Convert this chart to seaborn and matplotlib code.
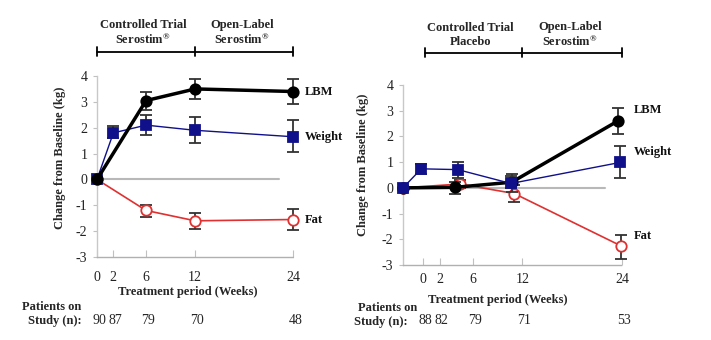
import matplotlib
matplotlib.use("Agg")
import matplotlib.pyplot as plt
import seaborn as sns
import pandas as pd

sns.set_theme(style="white")
plt.rcParams['font.family'] = ['Liberation Serif', 'DejaVu Serif']
plt.rcParams['mathtext.fontset'] = 'custom'
plt.rcParams['mathtext.rm'] = 'Liberation Serif'
plt.rcParams['mathtext.bf'] = 'Liberation Serif:bold'
plt.rcParams['mathtext.default'] = 'bf'

# ---------------- data ----------------
week_ticks = [0, 2, 6, 12, 24]
y_ticks = [-3, -2, -1, 0, 1, 2, 3, 4]

# Left panel (Serostim throughout)
L_lbm_x = [0, 6, 12, 24]
L_lbm_y = [0, 3.05, 3.5, 3.4]
L_lbm_lo = [0, 2.7, 3.1, 2.9]
L_lbm_hi = [0, 3.4, 3.9, 3.9]

L_wt_x = [0, 2, 6, 12, 24]
L_wt_y = [0, 1.8, 2.1, 1.9, 1.65]
L_wt_lo = [0, 1.6, 1.7, 1.4, 1.05]
L_wt_hi = [0, 2.05, 2.5, 2.4, 2.3]

L_fat_x = [0, 6, 12, 24]
L_fat_y = [0, -1.2, -1.6, -1.55]
L_fat_lo = [0, -1.45, -1.9, -1.95]
L_fat_hi = [0, -1.0, -1.3, -1.15]

L_n = ["90", "87", "79", "70", "48"]

# Right panel (placebo then open-label)
R_lbm_x = [-2.4, 3.9, 10.7, 23.5]
R_lbm_y = [0, 0.02, 0.22, 2.6]
R_lbm_lo = [0, -0.23, -0.17, 2.09]
R_lbm_hi = [0, 0.22, 0.55, 3.1]

R_wt_x = [-2.4, -0.2, 4.2, 10.6, 23.8]
R_wt_y = [0, 0.74, 0.71, 0.17, 0.99]
R_wt_lo = [0, 0.53, 0.39, 0.0, 0.39]
R_wt_hi = [0, 0.91, 1.0, 0.45, 1.64]

R_fat_x = [-2.4, 4.5, 11.0, 23.9]
R_fat_y = [0, 0.15, -0.22, -2.26]
R_fat_lo = [0, 0.0, -0.56, -2.75]
R_fat_hi = [0, 0.3, 0.1, -1.84]

R_n = ["88", "82", "79", "71", "53"]

L_header = ["Controlled Trial\nSerostim$^{®}$", "Open-Label\nSerostim$^{®}$"]
R_header = ["Controlled Trial\nPlacebo", "Open-Label\nSerostim$^{®}$"]

NAVY = "#10108a"
RED = "#e03030"
GREY = "#b8b8b8"
FS = 9

fig = plt.figure(figsize=(7.11, 3.40), dpi=100)
axL = fig.add_axes([97/711, 83/340, 243/711, 181/340])
axR = fig.add_axes([403/711, 75/340, 297/711, 180/340])


def draw_series(ax, x, y, lo, hi, color, marker, lw, ms, mfc, z):
    df = pd.DataFrame({"x": x, "y": y})
    sns.lineplot(data=df, x="x", y="y", ax=ax, color=color, lw=lw,
                 marker=marker, markersize=ms, markerfacecolor=mfc,
                 markeredgecolor=color, markeredgewidth=1.3,
                 sort=False, zorder=z, clip_on=False)
    yerr = [[yy - l for yy, l in zip(y, lo)], [h - yy for yy, h in zip(y, hi)]]
    ax.errorbar(x, y, yerr=yerr, fmt="none", ecolor="#333333", elinewidth=1.3,
                capsize=4, capthick=1.3, zorder=z - 1, clip_on=False)


def setup(ax, xlim, zero_end, bottom_start, labelpad):
    ax.set_xlim(*xlim)
    ax.set_ylim(-3, 4)
    ax.axhline(0, xmin=0, xmax=(zero_end - xlim[0]) / (xlim[1] - xlim[0]),
               color=GREY, lw=1.5, zorder=1)
    for s in ["top", "right"]:
        ax.spines[s].set_visible(False)
    ax.spines["left"].set_color("#c8c8c8")
    ax.spines["left"].set_linewidth(1.0)
    ax.spines["bottom"].set_color("#b0b0b0")
    ax.spines["bottom"].set_linewidth(1.0)
    ax.spines["bottom"].set_linestyle((0, (1, 1)))
    ax.spines["bottom"].set_bounds(bottom_start, 24)
    ax.set_yticks(y_ticks)
    ax.set_yticklabels([str(v) for v in y_ticks], fontsize=10)
    ax.set_xticks(week_ticks)
    ax.set_xticklabels([str(v) for v in week_ticks], fontsize=10)
    ax.tick_params(axis="y", left=True, length=3, width=0.8, color="#c0c0c0",
                   pad=4, labelcolor="#222222")
    ax.tick_params(axis="x", bottom=True, direction="in", length=5, width=0.8,
                   color="#c0c0c0", pad=labelpad, labelcolor="#222222")
    ax.patch.set_alpha(0)


# Left panel
setup(axL, (0, 29.7), 22.2, 0, 10)
draw_series(axL, L_wt_x, L_wt_y, L_wt_lo, L_wt_hi, NAVY, "s", 1.0, 7.5, NAVY, 5)
draw_series(axL, L_fat_x, L_fat_y, L_fat_lo, L_fat_hi, RED, "o", 1.2, 7.5, "white", 4)
draw_series(axL, L_lbm_x, L_lbm_y, L_lbm_lo, L_lbm_hi, "black", "o", 2.5, 7.5, "black", 6)

# Right panel
setup(axR, (-2.4, 33.4), 21.9, -2.4, 6)
draw_series(axR, R_fat_x, R_fat_y, R_fat_lo, R_fat_hi, RED, "o", 1.2, 7.5, "white", 4)
draw_series(axR, R_lbm_x, R_lbm_y, R_lbm_lo, R_lbm_hi, "black", "o", 2.5, 7.5, "black", 5)
draw_series(axR, R_wt_x, R_wt_y, R_wt_lo, R_wt_hi, NAVY, "s", 1.0, 7.5, NAVY, 6)

for ax in (axL, axR):
    ax.set_xlabel("")
    ax.set_ylabel("")
    ax.set_xlim(ax.get_xlim())

# Series labels
series_names = ["LBM", "Weight", "Fat"]
for ax, ys in [(axL, [3.4, 1.65, -1.55]), (axR, [3.03, 1.41, -1.89])]:
    for name, yy in zip(series_names, ys):
        ax.text(25.4, yy, name, fontsize=FS, fontweight="bold", va="center",
                ha="left", color="#111111")

# Headers and brackets
for ax, hdr, yb, yt, x0 in [(axL, L_header, 1.134, 1.238, 0),
                            (axR, R_header, 1.18, 1.278, 0.3)]:
    tr = ax.get_xaxis_transform()
    ax.plot([x0, 24], [yb, yb], color="black", lw=1.3, transform=tr, clip_on=False)
    for xv in [x0, 12, 24]:
        ax.plot([xv, xv], [yb - 0.025, yb + 0.025], color="black", lw=1.3,
                transform=tr, clip_on=False)
    ax.text((x0 + 12) / 2 - 0.4, yt, hdr[0], transform=tr, ha="center", va="center",
            fontsize=FS, fontweight="bold", linespacing=1.2)
    ax.text(17.7, yt, hdr[1], transform=tr, ha="center", va="center",
            fontsize=FS, fontweight="bold", linespacing=1.2)

# Axis titles
fig.text(60/711, 1 - 158/340, "Change from Baseline (kg)", rotation=90,
         ha="center", va="center", fontsize=9, fontweight="bold")
fig.text(363/711, 1 - 165/340, "Change from Baseline (kg)", rotation=90,
         ha="center", va="center", fontsize=9, fontweight="bold")
fig.text(188/711, 1 - 292/340, "Treatment period (Weeks)", ha="center",
         va="center", fontsize=FS, fontweight="bold")
fig.text(498/711, 1 - 300/340, "Treatment period (Weeks)", ha="center",
         va="center", fontsize=FS, fontweight="bold")

# Patients on study
fig.text(22/711, 1 - 307/340, "Patients on", ha="left", va="center",
         fontsize=FS, fontweight="bold")
fig.text(82/711, 1 - 321/340, "Study (n):", ha="right", va="center",
         fontsize=FS, fontweight="bold")
fig.text(358/711, 1 - 308/340, "Patients on", ha="left", va="center",
         fontsize=FS, fontweight="bold")
fig.text(408/711, 1 - 322/340, "Study (n):", ha="right", va="center",
         fontsize=FS, fontweight="bold")

for ax, nvals, ypix in [(axL, L_n, 320), (axR, R_n, 321)]:
    for wk, nv in zip(week_ticks, nvals):
        xd = ax.transData.transform((wk, 0))[0]
        xf = fig.transFigure.inverted().transform((xd, 0))[0]
        fig.text(xf + 2/711, 1 - ypix/340, nv, ha="center", va="center", fontsize=10)

fig.savefig("out.png", dpi=100)
